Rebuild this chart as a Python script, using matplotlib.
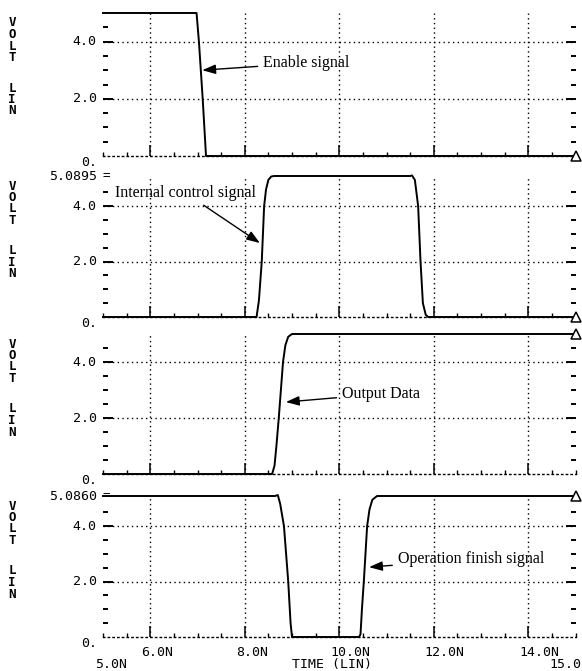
import matplotlib
matplotlib.use('Agg')
import matplotlib.pyplot as plt
from matplotlib.ticker import FixedLocator, MultipleLocator, NullFormatter

# ---------------- data (time in ns, voltage in V) ----------------
t_enable = [5.0, 6.98, 7.03, 7.11, 7.18, 15.0]
v_enable = [5.0, 5.0, 4.0, 2.0, 0.0, 0.0]

t_internal = [5.0, 8.25, 8.30, 8.36, 8.41, 8.45, 8.50, 8.56, 8.62,
              11.50, 11.54, 11.60, 11.67, 11.72, 11.77, 11.83, 11.88, 15.0]
v_internal = [0.0, 0.0, 0.6, 2.0, 4.0, 4.6, 4.95, 5.07, 5.0895,
              5.0895, 5.11, 4.95, 4.0, 2.0, 0.5, 0.08, 0.0, 0.0]

t_output = [5.0, 8.58, 8.63, 8.67, 8.72, 8.81, 8.86, 8.92, 9.0, 15.0]
v_output = [0.0, 0.0, 0.3, 1.0, 2.0, 4.0, 4.6, 4.9, 5.0, 5.0]

t_finish = [5.0, 8.64, 8.70, 8.75, 8.83, 8.92, 8.97, 9.0,
            10.42, 10.45, 10.48, 10.52, 10.59, 10.64, 10.70, 10.80, 15.0]
v_finish = [5.086, 5.086, 5.12, 4.8, 4.0, 2.0, 0.5, 0.0,
            0.0, 0.1, 1.0, 2.0, 4.0, 4.6, 4.95, 5.086, 5.086]

y_tops = [5.0, 5.0895, 5.0, 5.0860]
top_labels = [None, "5.0895", None, "5.0860"]
y_major = [2.0, 4.0]
y_major_labels = ["2.0", "4.0"]
x_major = [6.0, 8.0, 10.0, 12.0, 14.0]
x_major_labels = ["6.0N", "8.0N", "10.0N", "12.0N", "14.0N"]
annotations = ["Enable signal", "Internal control signal", "Output Data",
               "Operation finish signal"]
# (text anchor, arrow tip) in data coords
ann_text_xy = [(8.39, 3.25), (5.25, 4.48), (10.06, 2.86), (11.24, 2.81)]
ann_tip_xy = [(7.10, 3.0), (8.32, 2.67), (8.87, 2.57), (10.63, 2.52)]

series_t = [t_enable, t_internal, t_output, t_finish]
series_v = [v_enable, v_internal, v_output, v_finish]

# ---------------- layout ----------------
W, H = 582, 671
fig = plt.figure(figsize=(W / 100, H / 100), dpi=100)
left_px, right_px = 103, 575.5
panels_px = [(13, 156), (176, 317), (334, 474), (496, 637)]
MONO = "DejaVu Sans Mono"
SERIF = "Liberation Serif"
dotted = (0, (1, 2.4))

for i in range(4):
    yt, yb = panels_px[i]
    ax = fig.add_axes([left_px / W, 1 - yb / H, (right_px - left_px) / W, (yb - yt) / H])
    ax.set_xlim(5, 15)
    ax.set_ylim(0, y_tops[i])
    for s in ["left", "right", "top"]:
        ax.spines[s].set_visible(False)
    ax.spines["bottom"].set_linestyle(dotted)
    ax.spines["bottom"].set_linewidth(1.0)

    ax.xaxis.set_major_locator(FixedLocator(x_major))
    ax.xaxis.set_minor_locator(MultipleLocator(0.5))
    ax.yaxis.set_major_locator(FixedLocator(y_major))
    ax.yaxis.set_minor_locator(FixedLocator([0.5, 1.0, 1.5, 2.5, 3.0, 3.5, 4.5]))
    ax.xaxis.set_major_formatter(NullFormatter())
    ax.yaxis.set_major_formatter(NullFormatter())
    ax.tick_params(axis="x", which="major", direction="in", length=8, width=1.1, bottom=True, top=False)
    ax.tick_params(axis="x", which="minor", direction="in", length=3, width=1.0, bottom=True, top=False)
    ax.tick_params(axis="y", which="major", direction="in", length=7, width=1.4, left=True, right=True)
    ax.tick_params(axis="y", which="minor", direction="in", length=3.8, width=1.4, left=True, right=True)
    ax.grid(True, which="major", color="k", linestyle=dotted, linewidth=1.0)

    ax.plot(series_t[i], series_v[i], color="k", lw=1.4, clip_on=False,
            marker="^", markevery=[len(series_t[i]) - 1], mfc="white",
            mec="k", ms=6.5, mew=1.1, zorder=5)

    # y tick labels
    for yv, lab in zip(y_major, y_major_labels):
        ax.annotate(lab, xy=(0, yv), xycoords=("axes fraction", "data"),
                    xytext=(-4.5, 0), textcoords="offset points",
                    ha="right", va="center", family=MONO, fontsize=9.5)
    ax.annotate("0.", xy=(0, 0), xycoords=("axes fraction", "data"),
                xytext=(-4.5, -4.5), textcoords="offset points",
                ha="right", va="center", family=MONO, fontsize=9.5)
    if top_labels[i]:
        ax.annotate(top_labels[i], xy=(0, y_tops[i]), xycoords=("axes fraction", "data"),
                    xytext=(-4.5, 0), textcoords="offset points",
                    ha="right", va="center", family=MONO, fontsize=9.5)
        ax.annotate("=", xy=(0, y_tops[i]), xycoords=("axes fraction", "data"),
                    xytext=(-0.5, 0), textcoords="offset points",
                    ha="left", va="center", family=MONO, fontsize=9)

    # VOLT / LIN vertical labels
    offs = [10, 21.5, 33, 44.5, 75, 86.5, 98]
    for ch, o in zip("VOLTLIN", offs):
        fig.text(12 / W, 1 - (yt + o) / H, ch, ha="center", va="center",
                 family=MONO, fontsize=9, fontweight="bold")

    # annotation
    ax.annotate(annotations[i], xy=ann_tip_xy[i], xytext=ann_text_xy[i],
                ha="left", va="center", family=SERIF, fontsize=11.5,
                arrowprops=dict(arrowstyle="-|>,head_length=0.7,head_width=0.25",
                                color="k", lw=1.0, shrinkA=2, shrinkB=0))

    if i == 3:
        for xv, lab in zip(x_major, x_major_labels):
            ax.annotate(lab, xy=(xv, 0), xycoords=("data", "axes fraction"),
                        xytext=(-6.5, -11), textcoords="offset points",
                        ha="left", va="center", family=MONO, fontsize=9.5)
        ax.annotate("5.0N", xy=(5.0, 0), xycoords=("data", "axes fraction"),
                    xytext=(-6, -20), textcoords="offset points",
                    ha="left", va="center", family=MONO, fontsize=9.5)
        ax.annotate("15.0", xy=(15.0, 0), xycoords=("data", "axes fraction"),
                    xytext=(4.5, -20), textcoords="offset points",
                    ha="right", va="center", family=MONO, fontsize=9.5)
        ax.annotate("TIME (LIN)", xy=(0.485, 0), xycoords="axes fraction",
                    xytext=(0, -20), textcoords="offset points",
                    ha="center", va="center", family=MONO, fontsize=9.5)

fig.savefig("out.png", dpi=100)
